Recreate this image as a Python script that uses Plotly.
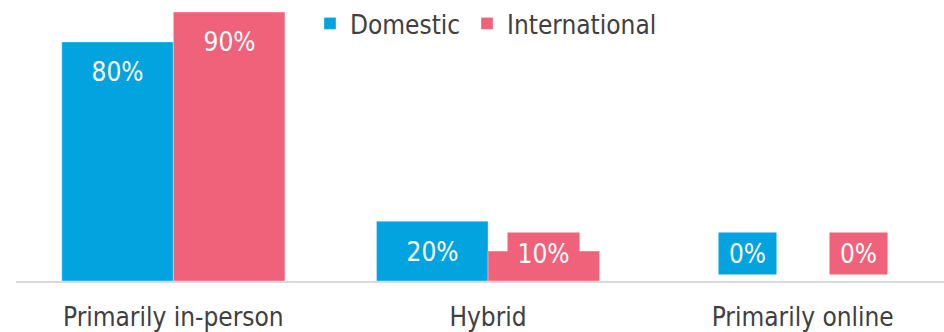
import plotly.graph_objects as go

categories = ["Primarily in-person", "Hybrid", "Primarily online"]
domestic = [0.80, 0.20, 0.00]
international = [0.90, 0.10, 0.00]
series_names = ["Domestic", "International"]

BLUE = "#02A3DF"
PINK = "#EF6279"
TEXT = "#404040"
FONT = "DejaVu Sans Condensed, DejaVu Sans, sans-serif"
FS = 26

fig = go.Figure()
legend_ids = ["legend", "legend2"]
for name, vals, color, lg in zip(series_names, [domestic, international], [BLUE, PINK], legend_ids):
    fig.add_trace(go.Bar(
        name=name, x=categories, y=vals, legend=lg, showlegend=True,
        marker=dict(color=color, line=dict(color="rgba(255,255,255,0.6)", width=0.6)),
    ))

# value labels: boxed in the series colour so they stay readable on short bars
offset = [-0.177, 0.177]
for k, (vals, color) in enumerate(zip([domestic, international], [BLUE, PINK])):
    for i, v in enumerate(vals):
        label = f"{round(v * 100)}%"
        fig.add_annotation(
            x=i + offset[k], y=max(v - 0.1, 0.093), xref="x", yref="y",
            text=label, showarrow=False,
            font=dict(family=FONT, size=FS, color="white"),
            bgcolor=color, borderpad=6, width=14 * len(label) + 17, height=29,
            xanchor="center", yanchor="middle",
        )

legend_style = dict(orientation="h", y=1.0, xanchor="left", yanchor="top",
                    font=dict(family=FONT, size=FS, color=TEXT), bgcolor="rgba(0,0,0,0)")

fig.update_layout(
    width=944, height=332,
    margin=dict(l=16, r=0, t=0, b=51),
    paper_bgcolor="white", plot_bgcolor="white",
    barmode="group", bargap=0.291, bargroupgap=0,
    font=dict(family=FONT, size=FS, color=TEXT),
    showlegend=True,
    legend=dict(x=0.3168, **legend_style),
    legend2=dict(x=0.486, **legend_style),
    xaxis=dict(range=[-0.5, 2.449], showline=True, linecolor="#D9D9D9", linewidth=2,
               ticks="", ticklabelstandoff=12, showgrid=False, zeroline=False,
               tickfont=dict(size=FS, color=TEXT)),
    yaxis=dict(range=[0, 0.9404], visible=False, showgrid=False, zeroline=False),
)

fig.write_html("out.html")
